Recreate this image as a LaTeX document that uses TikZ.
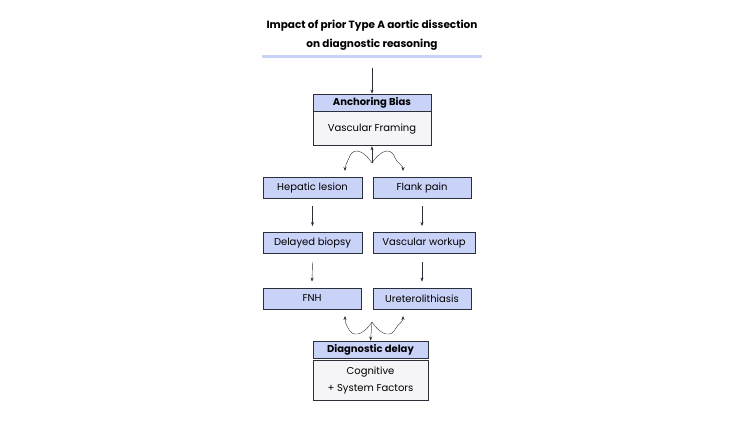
\documentclass[tikz,border=0pt]{standalone}
\usepackage{fontspec}
\setmainfont{Poppins}
\usetikzlibrary{arrows.meta,positioning}
\definecolor{headblue}{HTML}{C9D3F8}
\definecolor{bodygray}{HTML}{F5F5F7}
\definecolor{inkline}{HTML}{2B2F3A}
\tikzset{
  box/.style={draw=inkline, thick, fill=headblue, minimum height=21pt, inner sep=0pt, font=\fontsize{10}{12}\selectfont},
  head/.style={box, minimum height=17pt, font=\bfseries\fontsize{10}{12}\selectfont},
  body/.style={draw=inkline, thick, fill=bodygray, inner sep=0pt, align=center, font=\fontsize{10}{17}\selectfont},
  arr/.style={-{Stealth[length=4pt]}, inkline, thin},
}
\begin{document}
\begin{tikzpicture}[x=1pt,y=-1pt]
  \useasboundingbox (0,0) rectangle (750,422);
  % title
  \node[font=\bfseries\fontsize{10.5}{19}\selectfont, align=center] (title) at (372,35)
    {Impact of prior Type A aortic dissection\\on diagnostic reasoning};
  \fill[headblue] (262,55) rectangle (482,58);
  % top block
  \node[head, minimum width=118pt] (ab) at (372,102.5) {Anchoring Bias};
  \node[body, minimum width=118pt, minimum height=34pt, anchor=north] (vf) at (ab.south) {Vascular Framing};
  \coordinate (t0) at (372,68);
  \draw[arr] (t0) -- (ab.north);
  % rows
  \node[box, minimum width=99pt] (hl) at (312.5,187.5) {Hepatic lesion};
  \node[box, minimum width=98pt] (fp) at (422,187.5) {Flank pain};
  \node[box, minimum width=99pt] (db) at (312.5,243) {Delayed biopsy};
  \node[box, minimum width=102pt] (vw) at (424,243) {Vascular workup};
  \node[box, minimum width=98pt] (fnh) at (312,298.5) {FNH};
  \node[box, minimum width=98pt] (ur) at (422,298.5) {Ureterolithiasis};
  \draw[arr] ([yshift=-8pt]hl.south) -- ([yshift=6pt]db.north);
  \draw[arr] ([yshift=-8pt]fp.south) -- ([yshift=6pt]fp.south |- vw.north);
  \draw[arr] ([yshift=-8pt]db.south) -- ([yshift=6pt]fnh.north);
  \draw[arr] ([yshift=-8pt]fp.south |- vw.south) -- ([yshift=6pt]ur.north);
  % squiggles top
  \coordinate (m1) at (372,163);
  \draw[arr] (m1) -- (vf.south);
  \draw[arr] (m1) .. controls (362,148) and (352,148) .. (349,158) .. controls (347,163) and (345,165) .. (345,171);
  \draw[arr] (m1) .. controls (382,148) and (392,148) .. (395,158) .. controls (397,163) and (403,165) .. (403,171);
  % bottom block
  \node[head, minimum width=115pt] (dd) at (370.5,349.5) {Diagnostic delay};
  \node[body, minimum width=115pt, minimum height=40pt, anchor=north, yshift=-2pt] (cs) at (dd.south) {Cognitive\\+ System Factors};
  \coordinate (m2) at (372,322);
  \draw[arr] (m2) -- (dd.north);
  \draw[arr] (m2) .. controls (362,337) and (352,337) .. (348,328) .. controls (346,324) and (345,322) .. (345,316);
  \draw[arr] (m2) .. controls (382,337) and (392,337) .. (396,328) .. controls (398,324) and (403,322) .. (403,316);
\end{tikzpicture}
\end{document}
